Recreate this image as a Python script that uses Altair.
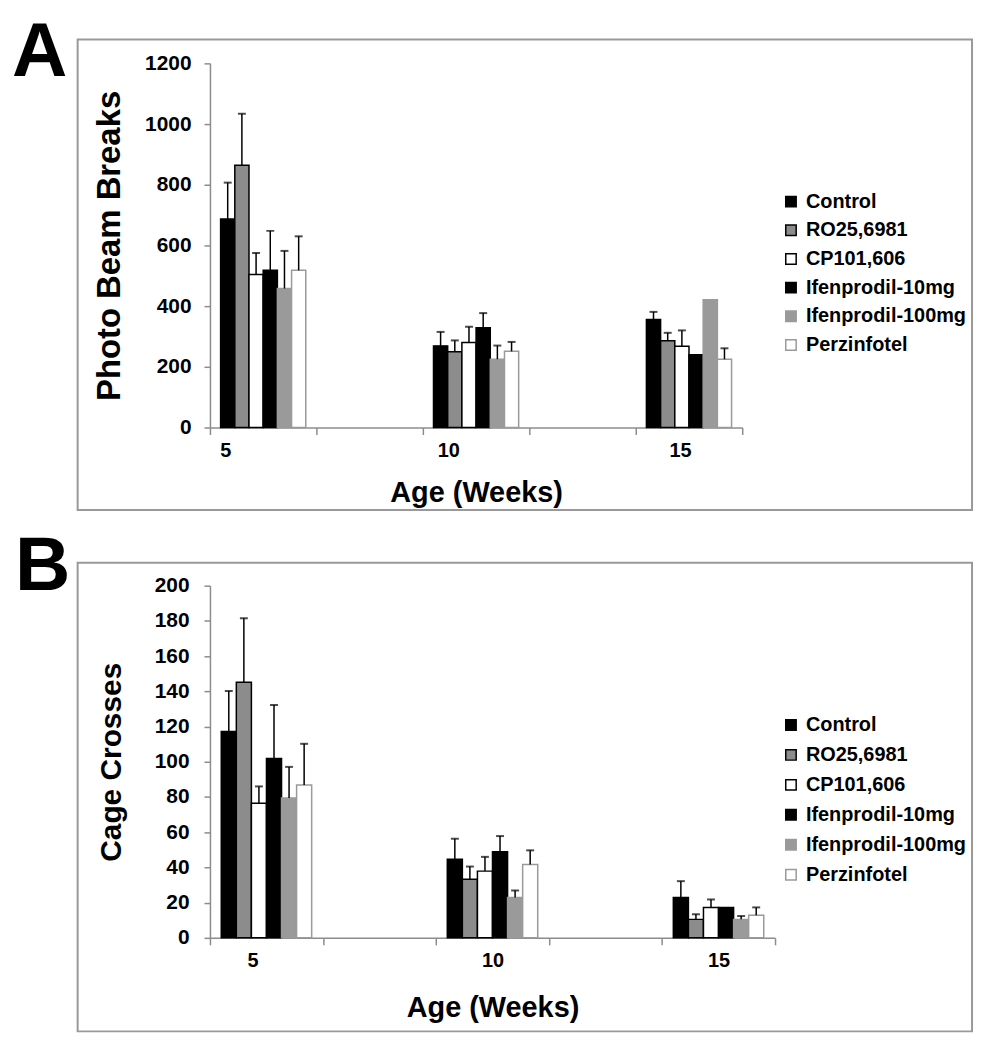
import altair as alt
import pandas as pd
import numpy as np

series = ["Control", "RO25,6981", "CP101,606", "Ifenprodil-10mg", "Ifenprodil-100mg", "Perzinfotel"]
weeks = ["5", "10", "15"]
x_domain = ["5", " ", "10", "  ", "15"]

fills = ["#000000", "#8c8c8c", "#ffffff", "#000000", "#9a9a9a", "#ffffff"]
strokes = ["#000000", "#000000", "#000000", "#000000", "#9a9a9a", "#9a9a9a"]

# Panel A: Photo Beam Breaks (rows = series, cols = weeks 5, 10, 15)
beam_mean = [
    [687, 269, 356],
    [864, 250, 286],
    [504, 280, 268],
    [518, 329, 240],
    [458, 225, 421],
    [518, 251, 225],
]
beam_upper = [
    [807, 315, 381],
    [1034, 287, 312],
    [575, 332, 320],
    [648, 377, None],
    [582, 270, None],
    [630, 282, 261],
]

# Panel B: Cage Crosses
cage_mean = [
    [117.2, 44.6, 22.9],
    [145.2, 33.3, 10.5],
    [76.4, 37.9, 17.3],
    [101.8, 48.9, 17.3],
    [79.4, 22.9, 10.5],
    [86.8, 41.6, 12.8],
]
cage_upper = [
    [140.2, 56.3, 32.2],
    [181.5, 40.5, 13.4],
    [86.0, 46.0, 21.8],
    [132.3, 57.8, None],
    [97.1, 26.9, 12.4],
    [110.2, 49.7, 17.3],
]

FONT = "Liberation Sans"
AXIS_GRAY = "#8c8c8c"


def make_df(mean, upper):
    rows = []
    for i, s in enumerate(series):
        for j, w in enumerate(weeks):
            rows.append({"series": s, "week": w, "value": mean[i][j],
                         "upper": upper[i][j] if upper[i][j] is not None else np.nan})
    return pd.DataFrame(rows)


def panel(df, letter, ytitle, ymax, ystep, w, h, ytitle_size, ylab_pad, ytitle_pad,
          legend_x, legend_y, row_pad, frame, letter_pos, xtitle_pad, label_shift):
    label_offset = {
        "condition": [
            {"test": "datum.value == '5'", "value": label_shift[0]},
            {"test": "datum.value == '10'", "value": label_shift[1]},
        ],
        "value": label_shift[2],
    }
    xaxis = alt.Axis(title="Age (Weeks)", labelAngle=0, tickBand="extent",
                     labelFontSize=20, labelFontWeight="bold", labelFont=FONT,
                     labelColor="#000", labelPadding=6, labelOffset=label_offset,
                     titleFontSize=29, titleFontWeight="bold", titleFont=FONT,
                     titleColor="#000", titlePadding=xtitle_pad,
                     domainColor=AXIS_GRAY, domainWidth=1.5,
                     tickColor=AXIS_GRAY, tickWidth=1.5, tickSize=7)
    xscale = alt.Scale(domain=x_domain, paddingInner=0, paddingOuter=0)
    xoffscale = alt.Scale(domain=series, paddingOuter=0.75, paddingInner=0)
    yscale = alt.Scale(domain=[0, ymax])
    yaxis = alt.Axis(title=ytitle, values=list(range(0, ymax + 1, ystep)), grid=False,
                     format="d", labelOverlap=False, tickCount=len(range(0, ymax + 1, ystep)),
                     labelFontSize=21, labelFontWeight="bold", labelFont=FONT, labelColor="#000",
                     labelPadding=ylab_pad,
                     titleFontSize=ytitle_size, titleFontWeight="bold", titleFont=FONT,
                     titleColor="#000", titlePadding=ytitle_pad,
                     domainColor=AXIS_GRAY, domainWidth=1.5, tickColor=AXIS_GRAY,
                     tickWidth=1.5, tickSize=6)
    leg = alt.Legend(title=None, orient="none", legendX=legend_x, legendY=legend_y,
                     symbolType="square", symbolSize=110, symbolStrokeWidth=1.5,
                     labelFontSize=20, labelFontWeight="bold", labelFont=FONT, labelLimit=300,
                     labelColor="#000", rowPadding=row_pad, labelOffset=5)

    X = alt.X("week:N", scale=xscale, axis=xaxis)
    XO = alt.XOffset("series:N", scale=xoffscale)

    base = alt.Chart(df)
    bars = base.mark_bar(strokeWidth=1.5).encode(
        x=X, xOffset=XO,
        y=alt.Y("value:Q", scale=yscale, axis=yaxis),
        fill=alt.Fill("series:N", scale=alt.Scale(domain=series, range=fills), legend=leg),
        stroke=alt.Stroke("series:N", scale=alt.Scale(domain=series, range=strokes), legend=leg),
    )
    err = base.transform_filter("isValid(datum.upper)").mark_rule(color="#000", strokeWidth=1.5).encode(
        x=X, xOffset=XO,
        y=alt.Y("value:Q", scale=yscale, axis=yaxis), y2="upper:Q")
    caps = base.transform_filter("isValid(datum.upper)").mark_tick(color="#000", thickness=2, size=8).encode(
        x=X, xOffset=XO,
        y=alt.Y("upper:Q", scale=yscale, axis=yaxis))

    one = alt.Chart(pd.DataFrame({"k": [0]}))
    box = one.mark_rect(fill=None, stroke="#999999", strokeWidth=2).encode(
        x=alt.value(frame[0]), x2=alt.value(frame[1]), y=alt.value(frame[2]), y2=alt.value(frame[3]))
    lab = one.mark_text(text=letter, fontSize=77, fontWeight="bold", font=FONT,
                        align="left", baseline="alphabetic", color="#000").encode(
        x=alt.value(letter_pos[0]), y=alt.value(letter_pos[1]))

    return alt.layer(box, lab, bars, err, caps).properties(width=w, height=h)


dfA = make_df(beam_mean, beam_upper)
dfB = make_df(cage_mean, cage_upper)

A = panel(dfA, "A", "Photo Beam Breaks", 1200, 200, 535, 366, 33, 13, 18, 574, 129, 8.8,
          (-133, 766, -24, 449), (-199, 13), 18, (-38, -28, -9))
B = panel(dfB, "B", "Cage Crosses", 200, 20, 568, 354, 30, 15, 28, 574, 130, 10.1,
          (-133, 766, -23, 448), (-196, 4), 23, (-14, 0, 0))

chart = alt.vconcat(A, B, spacing=17).resolve_scale(
    x="independent", y="independent", xOffset="independent",
    fill="independent", stroke="independent"
).resolve_legend(fill="independent", stroke="independent").configure_view(stroke=None).properties(
    padding={"top": 4, "left": 4, "right": 4, "bottom": 4})

chart.save("out.html", embed_options={"renderer": "svg", "actions": False})
